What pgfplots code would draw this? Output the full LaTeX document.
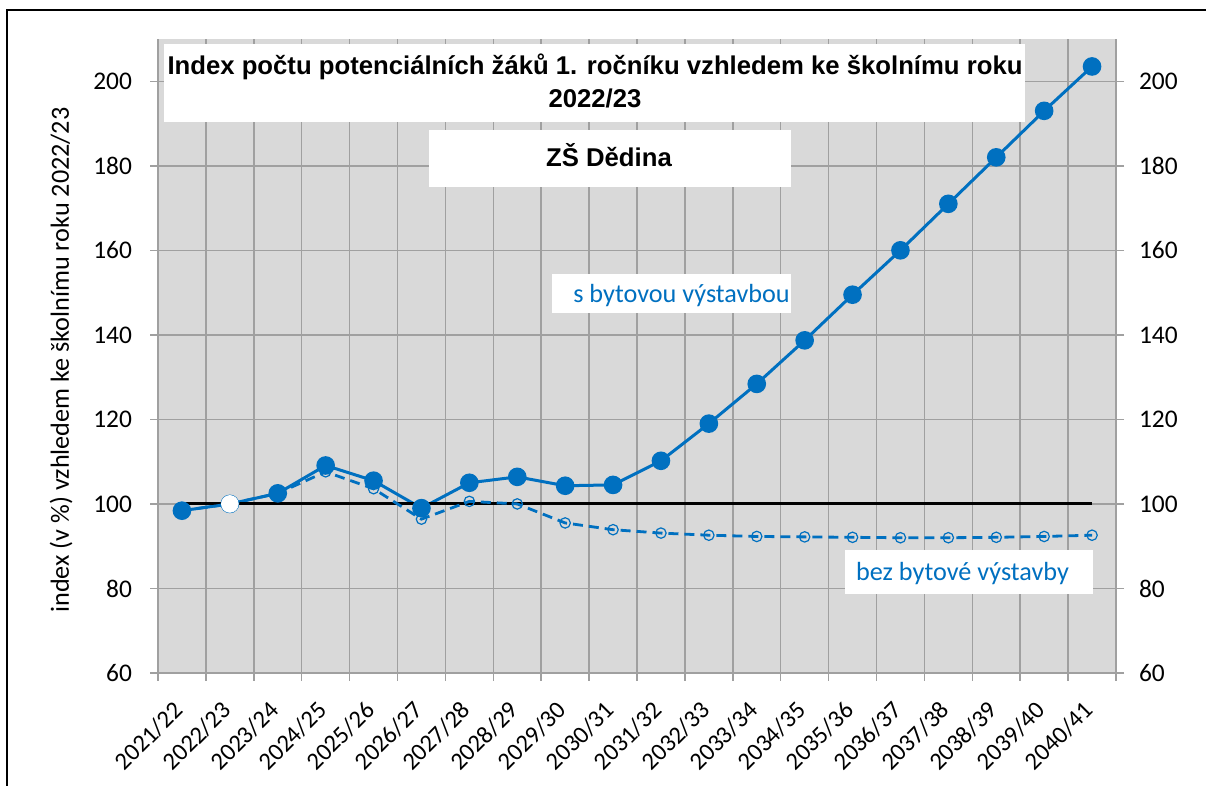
\documentclass[border=0pt]{standalone}
\usepackage{fontspec}
\setmainfont{Carlito}
\newfontfamily\arialfont{Liberation Sans}
\usepackage{pgfplots}
\pgfplotsset{compat=1.18}
\definecolor{bgg}{HTML}{D9D9D9}
\definecolor{grd}{HTML}{A0A0A0}
\definecolor{xblue}{HTML}{0070C0}
\newcommand\fs{\fontsize{12.7}{15}\selectfont}
\newcommand\xs{\fontsize{12.3}{15}\selectfont}
\newcommand\ts{\fontsize{12.85}{15}\selectfont}
\newcommand\as{\fontsize{13.1}{15}\selectfont}

\pgfplotstableread{
x s b
0 98.4 98.4
1 100 100
2 102.5 102.5
3 109.1 107.6
4 105.5 103.6
5 99.0 96.4
6 105.0 100.6
7 106.4 100.0
8 104.3 95.5
9 104.5 93.9
10 110.2 93.1
11 119.0 92.6
12 128.4 92.3
13 138.7 92.2
14 149.5 92.1
15 160.0 92.0
16 171.0 92.0
17 182.0 92.1
18 193.0 92.3
19 203.5 92.6
}\datatab

\begin{document}
\begin{tikzpicture}
\useasboundingbox (0,0) rectangle (603pt,393pt);
\fill[white] (0,0) rectangle (603pt,393pt);
\draw[black, line width=1pt] (3.5pt,-2pt) -- (3.5pt,388pt) -- (605pt,388pt);

\begin{axis}[
 at={(79pt,56.5pt)}, anchor=south west, scale only axis,
 width=479pt, height=317pt,
 xmin=-0.5, xmax=19.5, ymin=60, ymax=210,
 axis background/.style={fill=bgg},
 axis x line*=bottom, axis y line*=left,
 axis line style={draw=grd, line width=0.75pt},
 xtick={0,...,19},
 xticklabels={2021/22,2022/23,2023/24,2024/25,2025/26,2026/27,2027/28,2028/29,2029/30,2030/31,2031/32,2032/33,2033/34,2034/35,2035/36,2036/37,2037/38,2038/39,2039/40,2040/41},
 minor xtick={-0.5,0.5,...,19.5},
 xminorgrids, xmajorgrids=false, ymajorgrids,
 grid style={draw=grd, line width=0.75pt},
 minor grid style={draw=grd, line width=0.75pt},
 major x tick style={draw=none},
 tick align=outside, major tick length=4pt, minor tick length=4pt,
 tick style={draw=grd, line width=0.75pt},
 ytick={60,80,...,200},
 /pgf/number format/assume math mode=true,
 yticklabel style={font=\fs, text=black, xshift=-5.5pt},
 xticklabel style={font=\xs, text=black, inner sep=0pt, xshift=-1.5pt, yshift=-12.5pt, rotate=45, anchor=east},
 clip=false,
]
\addplot[xblue, line width=1.5pt, mark=*, mark size=3.9pt, mark options={solid, fill=xblue}] table[x=x, y=s] {\datatab};
\addplot[black, line width=1.5pt] coordinates {(0,100) (19,100)};
\addplot[xblue, line width=1.4pt, dash pattern=on 5pt off 3pt, mark=o, mark size=2.6pt, mark options={solid, line width=0.6pt}] table[x=x, y=b] {\datatab};
\addplot[only marks, mark=*, mark size=4.2pt, mark options={draw=white, fill=white}] coordinates {(1,100)};
\end{axis}

\begin{axis}[
 at={(79pt,56.5pt)}, anchor=south west, scale only axis,
 width=479pt, height=317pt,
 xmin=-0.5, xmax=19.5, ymin=60, ymax=210,
 axis x line=none, axis y line*=right,
 axis line style={draw=grd, line width=0.75pt},
 tick align=outside, major tick length=4pt,
 tick style={draw=grd, line width=0.75pt},
 ytick={60,80,...,200},
 /pgf/number format/assume math mode=true,
 yticklabel style={font=\fs, text=black, xshift=4pt},
]
\addplot[draw=none] coordinates {(0,100)};
\end{axis}

% annotation boxes
\fill[white] (82pt,371pt) rectangle (512.5pt,332pt);
\node[anchor=base, inner sep=0pt, font=\arialfont\bfseries\ts] at (297.5pt,355.5pt) {Index počtu potenciálních žáků 1. ročníku vzhledem ke školnímu roku};
\node[anchor=base, inner sep=0pt, font=\arialfont\bfseries\ts] at (297.5pt,339pt) {2022/23};
\fill[white] (214.5pt,328pt) rectangle (395.5pt,299.5pt);
\node[anchor=base, inner sep=0pt, font=\arialfont\bfseries\ts] at (304.5pt,309.5pt) {ZŠ Dědina};
\fill[white] (276pt,256pt) rectangle (395.5pt,236.5pt);
\node[anchor=base, inner sep=0pt, font=\as, text=xblue] at (340.75pt,241.5pt) {s bytovou výstavbou};
\fill[white] (422.5pt,118pt) rectangle (546.5pt,96pt);
\node[anchor=base, inner sep=0pt, font=\as, text=xblue] at (481.25pt,102.5pt) {bez bytové výstavby};
% y label
\node[rotate=90, inner sep=0pt, font=\as] at (30.5pt,213pt) {index (v \%) vzhledem ke školnímu roku 2022/23};
\end{tikzpicture}
\end{document}
